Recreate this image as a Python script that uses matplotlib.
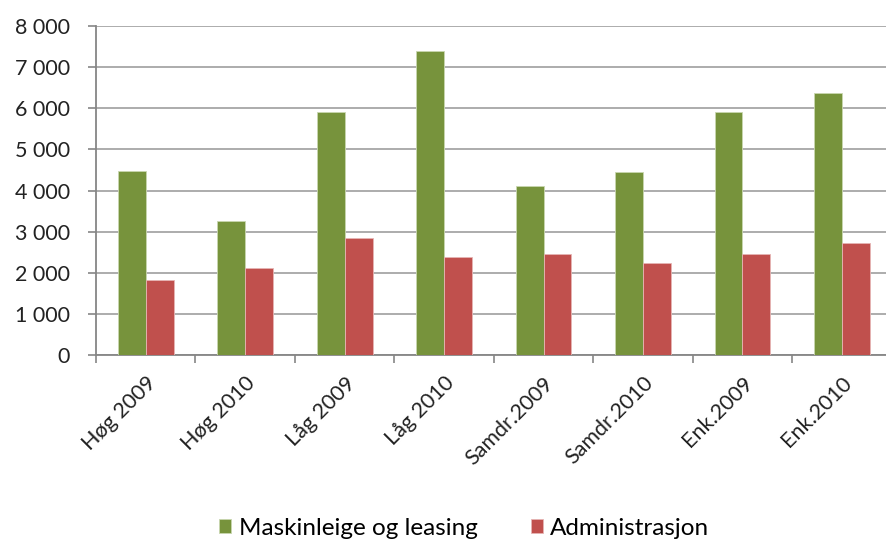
import numpy as np
import matplotlib.pyplot as plt
from matplotlib.ticker import FuncFormatter, FixedLocator

plt.rcParams['font.family'] = ['Lato', 'DejaVu Sans']

# data
categories = ['Høg 2009', 'Høg 2010', 'Låg 2009', 'Låg 2010',
              'Samdr.2009', 'Samdr.2010', 'Enk.2009', 'Enk.2010']
maskin = [4480, 3260, 5910, 7400, 4110, 4445, 5920, 6360]
admin = [1825, 2110, 2850, 2385, 2450, 2230, 2450, 2730]
series_names = ['Maskinleige og leasing', 'Administrasjon']

green = '#77933C'
red = '#C0504D'

fig = plt.figure(figsize=(8.86, 5.43), dpi=100)
ax = fig.add_axes([0.1084, 0.3462, 0.898, 0.6059])

x = np.arange(len(categories))
w = 0.28
ax.bar(x - w/2, maskin, w, color=green, edgecolor='#c9d7b0', linewidth=0.6,
       label=series_names[0], zorder=3)
ax.bar(x + w/2, admin, w, color=red, edgecolor='#e6b5b4', linewidth=0.6,
       label=series_names[1], zorder=3)

ax.set_xlim(-0.5, len(categories) - 0.5)
ax.set_ylim(0, 8000)
ax.set_yticks(np.arange(0, 8001, 1000))
ax.yaxis.set_major_formatter(FuncFormatter(lambda v, p: '{:,}'.format(int(v)).replace(',', ' ')))
ax.yaxis.grid(True, color='#a6a6a6', linewidth=1.3, zorder=0)

# x ticks: marks at category boundaries, labels at centers
ax.xaxis.set_major_locator(FixedLocator(np.arange(-0.5, len(categories), 1.0)))
ax.xaxis.set_major_formatter(FuncFormatter(lambda v, p: ''))
ax.xaxis.set_minor_locator(FixedLocator(x))
ax.set_xticklabels(categories, minor=True, rotation=45, ha='right',
                   rotation_mode='anchor', fontsize=15.5, color='#222222')
ax.tick_params(axis='x', which='minor', length=0, pad=13)
ax.tick_params(axis='x', which='major', length=6, width=1.2, color='#868686')
ax.tick_params(axis='y', length=6, width=1.2, color='#868686', labelsize=15.5,
               labelcolor='#222222', pad=13)

for s in ['top', 'right']:
    ax.spines[s].set_visible(False)
ax.spines['left'].set_color('#868686')
ax.spines['left'].set_linewidth(1.3)
ax.spines['bottom'].set_color('#868686')
ax.spines['bottom'].set_linewidth(1.3)

fig.legend(loc='center', bbox_to_anchor=(0.524, 0.027), ncol=2, frameon=False,
           fontsize=17.5, handlelength=0.5, handleheight=0.5, handletextpad=0.3,
           columnspacing=2.2)

fig.savefig('out.png', dpi=100)
